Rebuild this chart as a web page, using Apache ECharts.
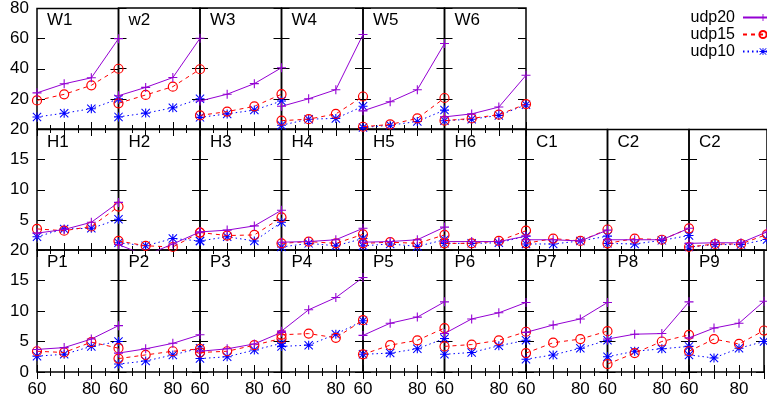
<!DOCTYPE html>
<html>
<head>
<meta charset="utf-8">
<script src="https://cdn.jsdelivr.net/npm/echarts@6/dist/echarts.min.js"></script>
<style>
  html, body { margin: 0; padding: 0; background: #fff; }
  #chart { width: 767px; height: 404px; }
</style>
</head>
<body>
<div id="chart"></div>
<script>
// x positions shared by every panel
const xValues = [60, 70, 80, 90];

// top row
const wNames = ['W1', 'w2', 'W3', 'W4', 'W5', 'W6'];
const wUdp20 = [[24, 30, 34, 60], [22, 27.5, 34, 60], [18.5, 23, 30, 40.5], [15, 20, 26, 62.5], [12, 18, 26, 56.5], [8, 10, 14.5, 35.5]];
const wUdp15 = [[19, 23, 29, 40], [17, 22.5, 28, 39.5], [9, 11.5, 15, 23], [5.5, 6.5, 10, 21.5], [1.5, 3, 7, 20.5], [5.5, 7, 9.5, 16.5]];
const wUdp10 = [[8, 10.5, 13.5, 20], [8, 10.5, 14, 20], [7.7, 10, 12.5, 18.5], [2.5, 6.5, 7, 15], [1, 2.5, 5, 12.5], [5.5, 6.5, 9, 16]];

// middle row
const hNames = ['H1', 'H2', 'H3', 'H4', 'H5', 'H6', 'C1', 'C2', 'C2'];
const hUdp20 = [[2.8, 3.4, 4.6, 7.9], [0.9, -0.9, 1.0, 3.0], [3.0, 3.3, 4.0, 6.6], [1.3, 1.4, 1.7, 3.6], [1.3, 1.4, 1.7, 3.8],
  [1.4, 1.4, 1.4, 2.3], [1.7, 1.7, 1.5, 3.3], [1.7, 1.7, 1.7, 3.6], [1.1, 1.2, 1.2, 3.0]];
const hUdp15 = [[3.5, 3.2, 3.9, 7.2], [1.5, 0.7, 0.5, 2.9], [2.9, 2.4, 2.5, 5.4], [1.1, 1.4, 1.1, 2.6], [1.1, 1.3, 1.1, 2.5],
  [1.1, 1.1, 1.5, 3.2], [1.1, 1.9, 1.5, 3.4], [1.1, 1.9, 1.7, 3.6], [0.5, 1.0, 1.0, 2.6]];
const hUdp10 = [[2.2, 3.5, 3.6, 5.1], [1.2, 0.7, 1.9, 1.5], [1.5, 2.2, 1.5, 4.6], [0.5, 1.1, 0.7, 1.9], [0.7, 1.0, 0.6, 1.7],
  [1.1, 1.1, 1.2, 2.3], [1.0, 1.0, 1.5, 2.3], [1.1, 1.0, 1.6, 2.4], [0.5, 0.9, 0.9, 1.75]];

// bottom row
const pNames = ['P1', 'P2', 'P3', 'P4', 'P5', 'P6', 'P7', 'P8', 'P9'];
const pUdp20 = [[3.7, 4.0, 5.4, 7.6], [3.1, 3.8, 4.7, 6.1], [3.4, 3.8, 4.6, 6.5], [6.7, 10.2, 12.2, 15.5], [6.0, 8.0, 9.0, 11.5],
  [6.3, 8.7, 9.7, 11.4], [6.5, 7.7, 8.7, 11.4], [5.4, 6.2, 6.3, 11.5], [5.6, 7.2, 8.0, 11.6]];
const pUdp15 = [[3.4, 3.2, 4.9, 3.9], [2.2, 2.8, 3.4, 3.8], [3.2, 3.4, 4.4, 5.5], [6.1, 6.3, 5.6, 8.5], [2.9, 4.4, 5.2, 7.2],
  [4.2, 4.5, 5.2, 6.6], [3.1, 4.8, 5.4, 6.7], [1.3, 3.1, 5.0, 6.1], [3.4, 5.4, 4.6, 6.8]];
const pUdp10 = [[2.6, 2.9, 4.2, 5.0], [1.3, 1.8, 2.8, 3.9], [2.2, 2.5, 3.6, 4.7], [4.2, 4.4, 6.2, 8.4], [2.9, 3.1, 3.8, 5.5],
  [2.9, 3.2, 4.3, 5.2], [2.1, 2.8, 3.9, 5.2], [2.5, 3.4, 3.8, 4.2], [2.8, 2.3, 3.9, 5.0]];

const FONT = 'Liberation Sans';
const PANEL_W = 81.5;
const LEFT0 = 37;

// plus and asterisk marks like gnuplot's point types 1 and 3
const plusPath = 'path://M4.4,0H5.6V4.4H10V5.6H5.6V10H4.4V5.6H0V4.4H4.4Z';
const starPath = plusPath + 'M0.8,0L10,9.2L9.2,10L0,0.8ZM9.2,0L10,0.8L0.8,10L0,9.2Z';

const seriesStyle = {
  udp20: { color: '#9400d3', lineType: 'solid', symbol: plusPath, size: 9, hollow: false },
  udp15: { color: '#ff0000', lineType: [4, 4], symbol: 'circle', size: 9, hollow: true },
  udp10: { color: '#0000ff', lineType: [1.5, 3], symbol: starPath, size: 9, hollow: false }
};

const rows = [
  { names: wNames, s20: wUdp20, s15: wUdp15, s10: wUdp10, top: 8, height: 121, max: 80, interval: 20, zeroLabel: false, xLabels: false },
  { names: hNames, s20: hUdp20, s15: hUdp15, s10: hUdp10, top: 129.5, height: 120.5, max: 20, interval: 5, zeroLabel: false, xLabels: false },
  { names: pNames, s20: pUdp20, s15: pUdp15, s10: pUdp10, top: 250, height: 122, max: 20, interval: 5, zeroLabel: true, xLabels: true }
];

const grids = [], xAxes = [], yAxes = [], series = [], titles = [];

rows.forEach(row => {
  row.names.forEach((name, i) => {
    const g = grids.length;
    const left = LEFT0 + PANEL_W * i;
    grids.push({
      left: left, top: row.top, width: PANEL_W, height: row.height,
      show: true, borderColor: '#000', borderWidth: 1.5, backgroundColor: 'transparent'
    });

    ['bottom', 'top'].forEach(pos => {
      xAxes.push({
        gridIndex: g, type: 'value', position: pos, min: 60, max: 90, interval: 10,
        axisLine: { show: false },
        axisTick: { show: true, inside: true, length: 7, lineStyle: { color: '#000', width: 1 } },
        minorTick: { show: true, splitNumber: 2, length: 4, lineStyle: { color: '#000', width: 1 } },
        splitLine: { show: false },
        axisLabel: {
          show: pos === 'bottom' && row.xLabels, margin: 9, hideOverlap: false,
          fontFamily: FONT, fontSize: 17, color: '#000',
          formatter: v => (v % 20 === 0 ? String(v) : '')
        }
      });
    });

    ['left', 'right'].forEach(pos => {
      yAxes.push({
        gridIndex: g, type: 'value', position: pos, min: 0, max: row.max, interval: row.interval,
        axisLine: { show: false },
        axisTick: { show: true, inside: true, length: 8, lineStyle: { color: '#000', width: 1 } },
        splitLine: { show: false },
        axisLabel: {
          show: pos === 'left' && i === 0, margin: 8,
          fontFamily: FONT, fontSize: 17, color: '#000',
          formatter: v => (v === 0 && !row.zeroLabel ? '' : String(v))
        }
      });
    });

    [['udp20', row.s20[i]], ['udp15', row.s15[i]], ['udp10', row.s10[i]]].forEach(([sname, vals]) => {
      const st = seriesStyle[sname];
      series.push({
        name: sname, type: 'line',
        xAxisIndex: 2 * g, yAxisIndex: 2 * g,
        data: xValues.map((x, k) => [x, vals[k]]),
        symbol: st.symbol, symbolSize: st.size, showAllSymbol: true,
        clip: true,
        lineStyle: { color: st.color, width: 1, type: st.lineType },
        itemStyle: st.hollow
          ? { color: 'rgba(0,0,0,0)', borderColor: st.color, borderWidth: 1.2 }
          : { color: st.color },
        emphasis: { disabled: true },
        z: sname === 'udp20' ? 4 : sname === 'udp15' ? 3 : 2
      });
    });

    titles.push({
      text: name, left: left + 10, top: row.top + 4, padding: 0,
      textStyle: { fontFamily: FONT, fontSize: 17, fontWeight: 'normal', color: '#000' }
    });
  });
});

const chart = echarts.init(document.getElementById('chart'));
chart.setOption({
  animation: false,
  backgroundColor: '#fff',
  title: titles,
  legend: {
    data: ['udp20', 'udp15', 'udp10'],
    orient: 'vertical', align: 'right',
    right: -17, top: 9, padding: 0,
    itemWidth: 40, itemHeight: 9, itemGap: 0,
    textStyle: { fontFamily: FONT, fontSize: 16, lineHeight: 17, color: '#000', padding: [0, 3, 0, 0] }
  },
  grid: grids,
  xAxis: xAxes,
  yAxis: yAxes,
  series: series
});
</script>
</body>
</html>
